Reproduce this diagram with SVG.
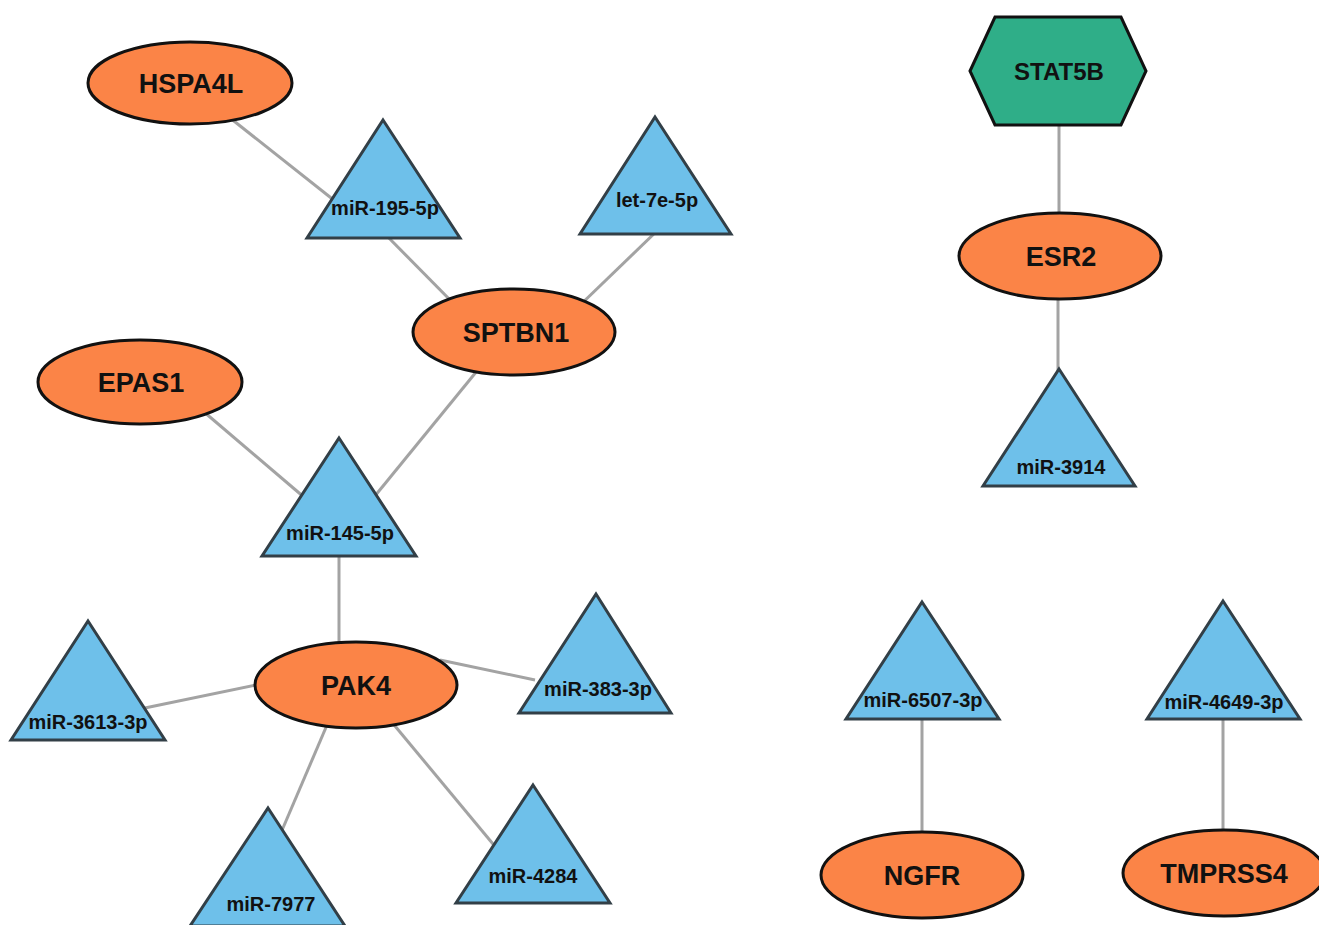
<svg xmlns="http://www.w3.org/2000/svg" width="1319" height="925" viewBox="0 0 1319 925">
<style>
.edge{stroke:#a3a3a3;stroke-width:3;fill:none}
.gene{fill:#fb8447;stroke:#111;stroke-width:3}
.mir{fill:#6ec0ea;stroke:#323f47;stroke-width:3;stroke-linejoin:miter}
.tf{fill:#2fae88;stroke:#111;stroke-width:3}
.gl{font-family:"Liberation Sans",Arial,sans-serif;font-weight:bold;font-size:27px;fill:#111;text-anchor:middle}
.ml{font-family:"Liberation Sans",Arial,sans-serif;font-weight:bold;font-size:20px;fill:#111;text-anchor:middle}
.tl{font-family:"Liberation Sans",Arial,sans-serif;font-weight:bold;font-size:24px;fill:#111;text-anchor:middle}
</style>
<rect width="1319" height="925" fill="#fff"/>
<g id="edges">
<line class="edge" x1="220" y1="110" x2="340" y2="205"/>
<line class="edge" x1="383" y1="232" x2="460" y2="310"/>
<line class="edge" x1="660" y1="228" x2="575" y2="310"/>
<line class="edge" x1="490" y1="355" x2="370" y2="502"/>
<line class="edge" x1="190" y1="400" x2="305" y2="498"/>
<line class="edge" x1="339" y1="550" x2="339" y2="650"/>
<line class="edge" x1="270" y1="682" x2="140" y2="709"/>
<line class="edge" x1="440" y1="660" x2="535" y2="680"/>
<line class="edge" x1="330" y1="718" x2="280" y2="835"/>
<line class="edge" x1="390" y1="720" x2="498" y2="850"/>
<line class="edge" x1="1059" y1="120" x2="1059" y2="220"/>
<line class="edge" x1="1058" y1="290" x2="1058" y2="380"/>
<line class="edge" x1="922" y1="712" x2="922" y2="840"/>
<line class="edge" x1="1223" y1="712" x2="1223" y2="840"/>
</g>
<g id="HSPA4L"><ellipse class="gene" cx="190" cy="83" rx="102" ry="41"/><text class="gl" x="191" y="93">HSPA4L</text></g>
<g id="miR-195-5p"><polygon class="mir" points="383,120 460,238 307,238"/><text class="ml" x="385" y="215">miR-195-5p</text></g>
<g id="let-7e-5p"><polygon class="mir" points="655,117 731,234 580,234"/><text class="ml" x="657" y="207">let-7e-5p</text></g>
<g id="SPTBN1"><ellipse class="gene" cx="514" cy="332" rx="101" ry="43"/><text class="gl" x="516" y="342">SPTBN1</text></g>
<g id="EPAS1"><ellipse class="gene" cx="140" cy="382" rx="102" ry="42"/><text class="gl" x="141" y="392">EPAS1</text></g>
<g id="miR-145-5p"><polygon class="mir" points="339,438 416,556 262,556"/><text class="ml" x="340" y="540">miR-145-5p</text></g>
<g id="PAK4"><ellipse class="gene" cx="356" cy="685" rx="101" ry="43"/><text class="gl" x="356" y="695">PAK4</text></g>
<g id="miR-3613-3p"><polygon class="mir" points="88,621 165,740 11,740"/><text class="ml" x="88" y="729">miR-3613-3p</text></g>
<g id="miR-383-3p"><polygon class="mir" points="596,594 671,713 519,713"/><text class="ml" x="598" y="696">miR-383-3p</text></g>
<g id="miR-7977"><polygon class="mir" points="268,808 345,926 190,926"/><text class="ml" x="271" y="911">miR-7977</text></g>
<g id="miR-4284"><polygon class="mir" points="533,785 610,903 456,903"/><text class="ml" x="533" y="883">miR-4284</text></g>
<g id="STAT5B"><polygon class="tf" points="970,71 995,17 1121,17 1146,71 1121,125 995,125"/><text class="tl" x="1059" y="80">STAT5B</text></g>
<g id="ESR2"><ellipse class="gene" cx="1060" cy="256" rx="101" ry="43"/><text class="gl" x="1061" y="266">ESR2</text></g>
<g id="miR-3914"><polygon class="mir" points="1059,369 1135,486 983,486"/><text class="ml" x="1061" y="474">miR-3914</text></g>
<g id="miR-6507-3p"><polygon class="mir" points="922,602 999,719 846,719"/><text class="ml" x="923" y="707">miR-6507-3p</text></g>
<g id="NGFR"><ellipse class="gene" cx="922" cy="875" rx="101" ry="43"/><text class="gl" x="922" y="885">NGFR</text></g>
<g id="miR-4649-3p"><polygon class="mir" points="1223,601 1300,719 1147,719"/><text class="ml" x="1224" y="709">miR-4649-3p</text></g>
<g id="TMPRSS4"><ellipse class="gene" cx="1224" cy="873" rx="101" ry="43"/><text class="gl" x="1224" y="883">TMPRSS4</text></g>
</svg>
